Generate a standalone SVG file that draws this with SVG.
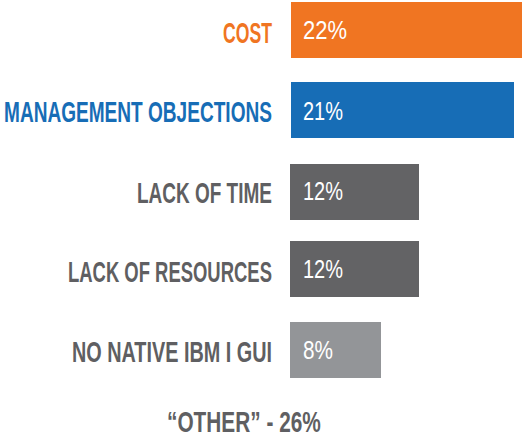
<svg xmlns="http://www.w3.org/2000/svg" width="522" height="437" viewBox="0 0 522 437">
<style>
.lbl{font-family:"Liberation Sans",Arial,sans-serif;font-weight:bold;font-size:29px}
.pct{font-family:"Liberation Sans",Arial,sans-serif;font-size:26px;fill:#fff}
.gray{fill:#5f5f62}
</style>
<rect width="522" height="437" fill="#fff"/>
<g id="cost">
<rect x="291" y="2" width="231" height="56" fill="#f07522"/>
<text class="lbl" transform="translate(223,43) scale(0.66,1)" fill="#f07522" textLength="74.2" lengthAdjust="spacingAndGlyphs">COST</text>
<text class="pct" transform="translate(303,39) scale(0.82,1)" textLength="53.7" lengthAdjust="spacingAndGlyphs">22%</text>
</g>
<g id="management">
<rect x="291" y="82" width="223" height="56" fill="#176db6"/>
<text class="lbl" transform="translate(4,122) scale(0.66,1)" fill="#176db6" textLength="406" lengthAdjust="spacingAndGlyphs">MANAGEMENT OBJECTIONS</text>
<text class="pct" transform="translate(303,120) scale(0.82,1)" textLength="48.8" lengthAdjust="spacingAndGlyphs">21%</text>
</g>
<g id="time">
<rect x="290" y="164" width="129" height="56" fill="#636365"/>
<text class="lbl gray" transform="translate(137,203) scale(0.66,1)" textLength="204.5" lengthAdjust="spacingAndGlyphs">LACK OF TIME</text>
<text class="pct" transform="translate(303,200) scale(0.82,1)" textLength="48.8" lengthAdjust="spacingAndGlyphs">12%</text>
</g>
<g id="resources">
<rect x="290" y="241" width="129" height="56" fill="#636365"/>
<text class="lbl gray" transform="translate(68,282) scale(0.66,1)" textLength="309" lengthAdjust="spacingAndGlyphs">LACK OF RESOURCES</text>
<text class="pct" transform="translate(303,278) scale(0.82,1)" textLength="48.8" lengthAdjust="spacingAndGlyphs">12%</text>
</g>
<g id="gui">
<rect x="290" y="322" width="91" height="56" fill="#939598"/>
<text class="lbl gray" transform="translate(72,362) scale(0.66,1)" textLength="303" lengthAdjust="spacingAndGlyphs">NO NATIVE IBM I GUI</text>
<text class="pct" transform="translate(303,359) scale(0.82,1)" textLength="36.6" lengthAdjust="spacingAndGlyphs">8%</text>
</g>
<g id="other">
<text class="lbl gray" transform="translate(167,432) scale(0.66,1)" textLength="233" lengthAdjust="spacingAndGlyphs">“OTHER” - 26%</text>
</g>
<g id="connectors"/>
</svg>
